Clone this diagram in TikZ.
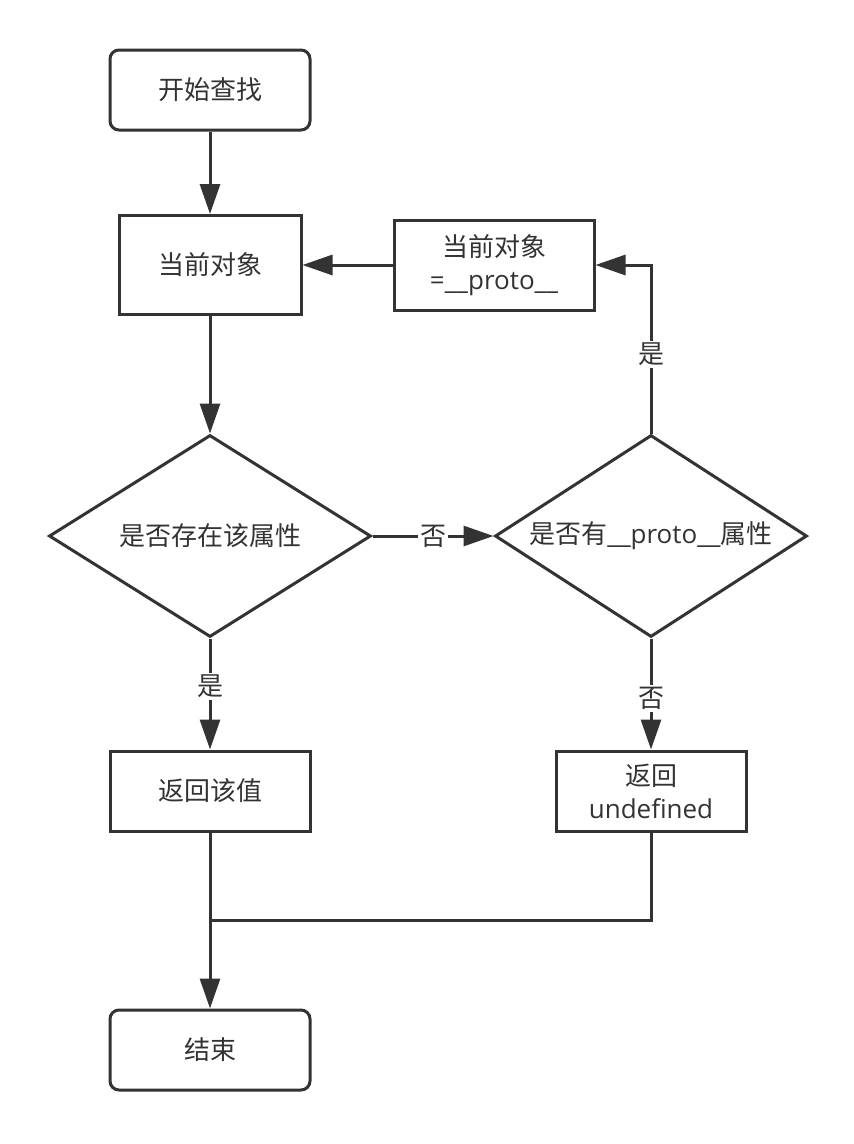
\documentclass[tikz,border=0pt]{standalone}
\usepackage{fontspec}
\setmainfont{Noto Sans CJK SC}
\newfontfamily\lat{Open Sans}
\usetikzlibrary{arrows.meta,shapes.geometric}
\definecolor{ink}{HTML}{333333}
\begin{document}
\begin{tikzpicture}[x=1pt,y=-1pt,
  every node/.style={font=\fontsize{26pt}{33pt}\selectfont, text=ink},
  base/.style={draw=ink, line width=3pt, inner sep=0pt, align=center},
  term/.style={base, rounded corners=9pt, minimum width=200pt, minimum height=80pt},
  proc/.style={base, minimum width=#1, minimum height=90pt},
  proc/.default=180pt,
  dia/.style={base, diamond, minimum width=322pt, minimum height=202pt},
  conn/.style={draw=ink, line width=3pt},
  arr/.style={conn, -{Triangle[length=30pt,width=20pt]}},
  lbl/.style={fill=white, inner sep=2pt}]
\useasboundingbox (0,0) rectangle (854,1144);

\node[term] (start) at (210,90) {开始查找};
\node[proc={182pt}, minimum height=99pt] (cur) at (210,265) {当前对象};
\node[proc={200pt}] (proto) at (494,265) {当前对象\\{\lat =\_\_proto\_\_}};
\node[dia] (d1) at (210,536) {\makebox[0pt]{是否存在该属性}};
\node[dia, minimum width=312pt] (d2) at (651,536) {\makebox[0pt]{是否有{\lat\_\_proto\_\_}属性}};
\node[proc={200pt}, minimum height=80pt] (ret1) at (210,791) {返回该值};
\node[proc={190pt}, minimum height=80pt] (ret2) at (651,791) {返回\\{\lat undefined}};
\node[term] (end) at (210,1050) {结束};
\coordinate (merge) at (210,920);

\draw[arr] (start) -- (cur);
\draw[arr] (proto) -- (cur);
\draw[arr] (cur) -- (d1);
\draw[arr] (d1) -- node[lbl, pos=0.5]{否} (d2);
\draw[arr] (d2.north) |- node[lbl, pos=0.235]{是} (proto.east);
\draw[arr] (d1) -- node[lbl, pos=0.43]{是} (ret1);
\draw[arr] (d2) -- node[lbl, pos=0.54]{否} (ret2);
\draw[arr] (ret1) -- (end);
\draw[conn] (ret2.south) |- (merge);
\end{tikzpicture}
\end{document}
